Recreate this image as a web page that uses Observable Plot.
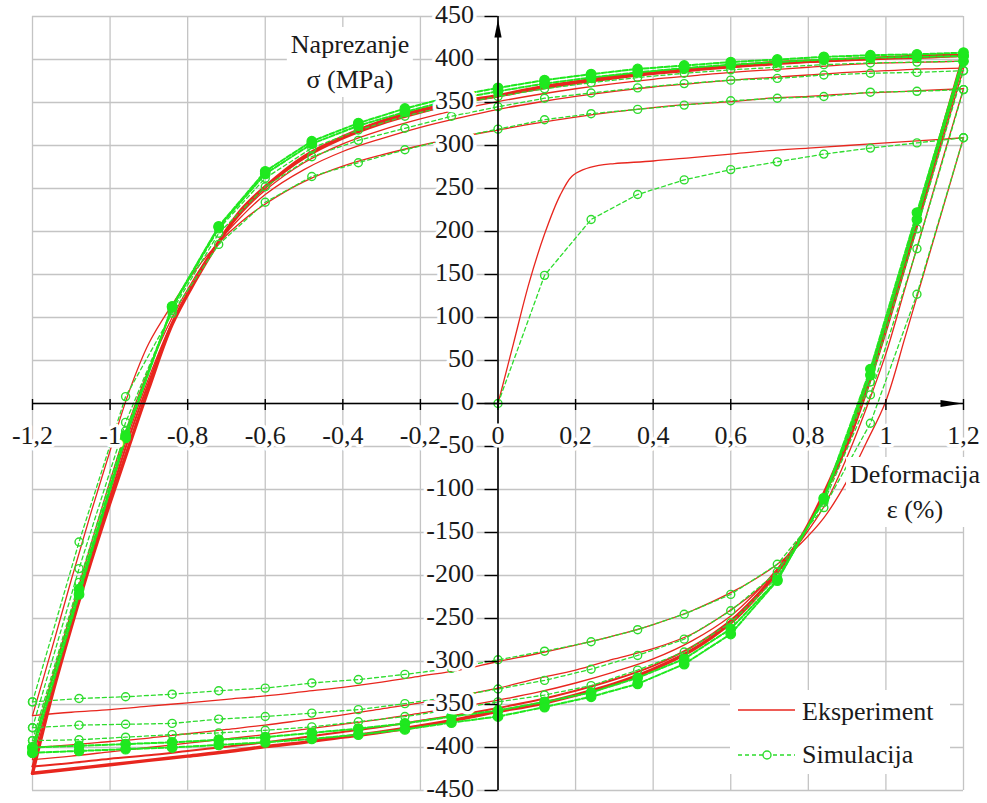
<!DOCTYPE html>
<html><head><meta charset="utf-8">
<script src="https://cdn.jsdelivr.net/npm/d3@7"></script>
<script src="https://cdn.jsdelivr.net/npm/@observablehq/plot@0.6"></script>
<style>
body{margin:0;background:#fff;}
#wrap{position:relative;width:987px;height:803px;font-family:"Liberation Serif","Times New Roman",serif;color:#1a1a1a;overflow:hidden;}
.title{position:absolute;background:#fff;font-size:26px;line-height:35px;text-align:center;transform:translateX(-50%);padding:0 4px;white-space:nowrap;}
#legend{position:absolute;left:730px;top:690px;width:220px;height:84px;background:#fff;}
#legend svg{position:absolute;left:0;top:0;}
</style></head><body><div id="wrap"></div>
<script>
// ---------- axes ----------
const xDomain = [-1.2, 1.2];
const yDomain = [-450, 450];
const xTicks = [-1.2, -1, -0.8, -0.6, -0.4, -0.2, 0, 0.2, 0.4, 0.6, 0.8, 1, 1.2];
const xTickLabels = ["-1,2", "-1", "-0,8", "-0,6", "-0,4", "-0,2", "0", "0,2", "0,4", "0,6", "0,8", "1", "1,2"];
const yTicks = [450, 400, 350, 300, 250, 200, 150, 100, 50, 0, -50, -100, -150, -200, -250, -300, -350, -400, -450];
const yTickLabels = ["450", "400", "350", "300", "250", "200", "150", "100", "50", "0", "-50", "-100", "-150", "-200", "-250", "-300", "-350", "-400", "-450"];
const yTitle = ["Naprezanje", "σ (MPa)"];
const xTitle = ["Deformacija", "ε (%)"];
const seriesNames = ["Eksperiment", "Simulacija"];

// ---------- Simulacija (markers every 0.12 %) ----------
const simInitStrain = [0, 0.12, 0.24, 0.36, 0.48, 0.6, 0.72, 0.84, 0.96, 1.08, 1.2];
const simInitStress = [0, 149, 214, 243, 260, 272, 281, 290, 297, 303, 309];
const simStrain = [-1.2, -1.08, -0.96, -0.84, -0.72, -0.6, -0.48, -0.36, -0.24, -0.12, 0, 0.12, 0.24, 0.36, 0.48, 0.6, 0.72, 0.84, 0.96, 1.08, 1.2];
const simDesc1 = [-347, -343, -341, -338, -334, -331, -325, -321, -315, -308, -298, -288, -277, -263, -245, -222, -187, -121, -23, 127, 309];
const simAsc1  = [-347, -161, 8, 105, 185, 234, 264, 280, 295, 308, 319, 330, 337, 342, 347, 352, 355, 357, 362, 363, 365];
const simDesc2 = [-377, -374, -373, -372, -367, -364, -360, -356, -349, -341, -332, -322, -309, -293, -274, -241, -196, -115, 10, 180, 365];
const simAsc2  = [-377, -192, -22, 108, 198, 252, 287, 306, 320, 334, 345, 355, 361, 367, 372, 376, 378, 382, 384, 385, 387];
const simDesc3 = [-392, -391, -388, -385, -383, -380, -376, -370, -364, -356, -347, -339, -328, -310, -289, -255, -202, -112, 25, 203, 387];
const simAsc3  = [-392, -208, -32, 111, 203, 262, 297, 318, 334, 347, 357, 366, 373, 379, 384, 388, 391, 394, 396, 397, 398];
const simDesc4 = [-400, -398, -396, -394, -391, -388, -383, -378, -372, -364, -357, -347, -336, -319, -297, -262, -205, -111, 33, 214, 398];
const simAsc4  = [-400, -216, -37, 112, 205, 267, 302, 323, 339, 353, 363, 372, 379, 385, 390, 394, 397, 400, 402, 403, 404];
const simDesc5 = [-406, -404, -402, -400, -397, -394, -390, -385, -379, -371, -364, -353, -341, -326, -303, -268, -206, -110, 40, 222, 404];
const simAsc5  = [-406, -222, -40, 113, 206, 270, 305, 326, 343, 357, 367, 376, 383, 389, 393, 397, 400, 403, 405, 406, 408];

// ---------- Eksperiment ----------
const expInitStrain = [0, 0.04, 0.08, 0.12, 0.16, 0.19, 0.22, 0.26, 0.3, 0.4, 0.5, 0.6, 0.7, 0.8, 0.9, 1, 1.1, 1.2];
const expInitStress = [0, 70, 140, 197, 242, 264, 272, 277, 279, 282, 286, 290, 294, 297, 300, 303, 306, 309];
const expStrainAsc  = [-1.2, -1.15, -1.1, -1.05, -1, -0.95, -0.9, -0.84, -0.78, -0.72, -0.66, -0.6, -0.5, -0.4, -0.3, -0.2, -0.1, 0, 0.1, 0.2, 0.3, 0.4, 0.5, 0.6, 0.7, 0.8, 0.9, 1, 1.1, 1.2];
const expStrainDesc = [1.2, 1.15, 1.1, 1.05, 1, 0.95, 0.9, 0.84, 0.78, 0.72, 0.66, 0.6, 0.5, 0.4, 0.3, 0.2, 0.1, 0, -0.1, -0.2, -0.3, -0.4, -0.5, -0.6, -0.7, -0.8, -0.9, -1, -1.1, -1.2];
const expDesc1 = [309, 232, 155, 78, 3, -45, -90, -133, -163, -187, -205, -220, -241, -257, -270, -281, -291, -300, -310, -317, -324, -330, -335, -340, -344, -348, -352, -356, -359, -363];
const expAsc1  = [-363, -285, -205, -128, -55, 15, 70, 115, 155, 187, 212, 232, 258, 276, 289, 300, 310, 318, 326, 333, 339, 344, 348, 351, 355, 357, 360, 362, 364, 366];
const expDesc2 = [366, 290, 212, 135, 58, -5, -62, -120, -160, -195, -220, -240, -268, -285, -297, -310, -320, -331, -340, -348, -355, -362, -368, -374, -379, -384, -389, -393, -397, -400];
const expAsc2  = [-400, -320, -242, -165, -90, -20, 40, 100, 148, 188, 218, 243, 272, 293, 308, 321, 332, 342, 350, 357, 363, 368, 372, 376, 379, 382, 385, 387, 389, 390];
const expDesc3 = [390, 312, 235, 158, 82, 12, -50, -108, -155, -192, -222, -247, -276, -297, -312, -325, -336, -345, -353, -360, -367, -373, -379, -385, -390, -395, -400, -405, -410, -414];
const expAsc3  = [-414, -332, -254, -177, -102, -32, 30, 95, 145, 188, 222, 248, 280, 302, 318, 331, 342, 351, 359, 366, 372, 377, 381, 385, 388, 391, 394, 396, 397, 398];
const expDesc4 = [398, 318, 240, 162, 86, 15, -48, -108, -157, -195, -226, -252, -283, -305, -321, -334, -345, -354, -362, -369, -376, -382, -388, -394, -399, -404, -409, -413, -418, -422];
const expAsc4  = [-422, -338, -258, -180, -108, -38, 25, 93, 143, 188, 224, 251, 285, 308, 325, 338, 349, 357, 365, 372, 378, 383, 387, 391, 394, 397, 399, 401, 402, 404];
const expDesc5 = [404, 325, 245, 168, 92, 22, -42, -105, -157, -196, -228, -255, -287, -309, -326, -339, -350, -358, -367, -375, -382, -388, -394, -399, -405, -410, -415, -420, -425, -430];
const expAsc5  = [-430, -340, -260, -185, -115, -48, 18, 92, 143, 188, 226, 252, 287, 310, 328, 341, 351, 358, 367, 374, 380, 385, 389, 392, 396, 398, 400, 402, 404, 405];

// ---------- build tables ----------
const RED = "#e8261e", GREEN = "#2ddc2d", GREEN_F = "#1fe81f";
function rows(name, xs, ys) { return xs.map((x, i) => ({branch: name, x, y: ys[i]})); }

const expThin = [
  ...rows("e0", expInitStrain, expInitStress),
  ...rows("e1d", expStrainDesc, expDesc1), ...rows("e1a", expStrainAsc, expAsc1),
  ...rows("e2d", expStrainDesc, expDesc2), ...rows("e2a", expStrainAsc, expAsc2),
  ...rows("e3d", expStrainDesc, expDesc3), ...rows("e3a", expStrainAsc, expAsc3)
];
const expMid = [...rows("e4d", expStrainDesc, expDesc4), ...rows("e4a", expStrainAsc, expAsc4)];
const expThick = [...rows("e5d", expStrainDesc, expDesc5), ...rows("e5a", expStrainAsc, expAsc5)];

const simOpen = [
  ...rows("s0", simInitStrain, simInitStress),
  ...rows("s1d", simStrain, simDesc1), ...rows("s1a", simStrain, simAsc1),
  ...rows("s2d", simStrain, simDesc2), ...rows("s2a", simStrain, simAsc2),
  ...rows("s3d", simStrain, simDesc3), ...rows("s3a", simStrain, simAsc3)
];
const simFilled = [
  ...rows("s4d", simStrain, simDesc4), ...rows("s4a", simStrain, simAsc4),
  ...rows("s5d", simStrain, simDesc5), ...rows("s5a", simStrain, simAsc5)
];

const arrowRight = {draw(ctx) { ctx.moveTo(0, 0); ctx.lineTo(-22, -3.6); ctx.lineTo(-22, 3.6); ctx.closePath(); }};
const arrowUp = {draw(ctx) { ctx.moveTo(0, 0); ctx.lineTo(-3.6, 18); ctx.lineTo(3.6, 18); ctx.closePath(); }};

const FONT = "Liberation Serif";
const GRID = "#c4c4c4";

const chart = Plot.plot({
  width: 987, height: 803,
  marginLeft: 32, marginRight: 24, marginTop: 16, marginBottom: 13,
  x: {domain: xDomain, axis: null},
  y: {domain: yDomain, axis: null},
  style: {background: "white", fontFamily: FONT, overflow: "visible"},
  marks: [
    Plot.ruleX(xTicks, {stroke: GRID, strokeWidth: 1.3}),
    Plot.ruleY(yTicks, {stroke: GRID, strokeWidth: 1.3}),
    // experiment
    Plot.line(expThin, {x: "x", y: "y", z: "branch", stroke: RED, strokeWidth: 1.3, curve: "catmull-rom"}),
    Plot.line(expMid, {x: "x", y: "y", z: "branch", stroke: RED, strokeWidth: 2, curve: "catmull-rom"}),
    Plot.line(expThick, {x: "x", y: "y", z: "branch", stroke: RED, strokeWidth: 3.4, curve: "catmull-rom"}),
    // simulation
    Plot.line(simOpen, {x: "x", y: "y", z: "branch", stroke: GREEN, strokeWidth: 1.3, strokeDasharray: "4,3"}),
    Plot.line(simFilled, {x: "x", y: "y", z: "branch", stroke: GREEN_F, strokeWidth: 2, strokeDasharray: "5,2"}),
    Plot.dot(simOpen, {x: "x", y: "y", r: 4, stroke: GREEN, strokeWidth: 1.4, fill: "none"}),
    Plot.dot(simFilled, {x: "x", y: "y", r: 4.8, stroke: GREEN_F, strokeWidth: 1.2, fill: GREEN_F}),
    // axes through origin
    Plot.ruleY([0], {stroke: "black", strokeWidth: 1.6}),
    Plot.ruleX([0], {stroke: "black", strokeWidth: 1.6}),
    Plot.ruleX(xTicks, {x: d => d, y1: 0, y2: 0, insetTop: -4, insetBottom: -7, stroke: "black", strokeWidth: 1.4}),
    Plot.ruleY(yTicks, {y: d => d, x1: 0, x2: 0, insetLeft: -13, insetRight: 0, stroke: "black", strokeWidth: 1.4}),
    // tick labels
    Plot.text(xTicks, {x: d => d, y: 0, text: (d, i) => xTickLabels[i], dy: 32, fontSize: 26, fontFamily: FONT,
      fill: "#1a1a1a", stroke: "white", strokeWidth: 7, strokeLinejoin: "round", paintOrder: "stroke"}),
    Plot.text(yTicks, {x: 0, y: d => d, text: (d, i) => yTickLabels[i], dx: -24, dy: -2, textAnchor: "end", fontSize: 26, fontFamily: FONT,
      fill: "#1a1a1a", stroke: "white", strokeWidth: 7, strokeLinejoin: "round", paintOrder: "stroke"}),
    // arrowheads
    Plot.dot([0], {x: xDomain[1], y: 0, symbol: arrowRight, r: 5, fill: "black", stroke: "none", dx: -1}),
    Plot.dot([0], {x: 0, y: yDomain[1], symbol: arrowUp, r: 5, fill: "black", stroke: "none", dy: 3})
  ]
});

const wrap = document.getElementById("wrap");
wrap.appendChild(chart);

function addTitle(lines, cx, top) {
  const d = document.createElement("div");
  d.className = "title";
  d.style.left = cx + "px";
  d.style.top = top + "px";
  d.innerHTML = lines.join("<br>");
  wrap.appendChild(d);
}
addTitle(yTitle, 350, 27);
addTitle(xTitle, 915, 457);

const leg = document.createElement("div");
leg.id = "legend";
leg.innerHTML = `<svg width="220" height="84" style="font-family:'Liberation Serif';font-size:26px">
  <line x1="8" x2="65" y1="20" y2="20" stroke="${RED}" stroke-width="1.5"/>
  <text x="72" y="30" fill="#1a1a1a">${seriesNames[0]}</text>
  <line x1="8" x2="65" y1="65" y2="65" stroke="${GREEN}" stroke-width="1.4" stroke-dasharray="4,3"/>
  <circle cx="37" cy="65" r="4" fill="white" stroke="${GREEN}" stroke-width="1.4"/>
  <text x="72" y="73" fill="#1a1a1a">${seriesNames[1]}</text>
</svg>`;
wrap.appendChild(leg);
</script></body></html>
